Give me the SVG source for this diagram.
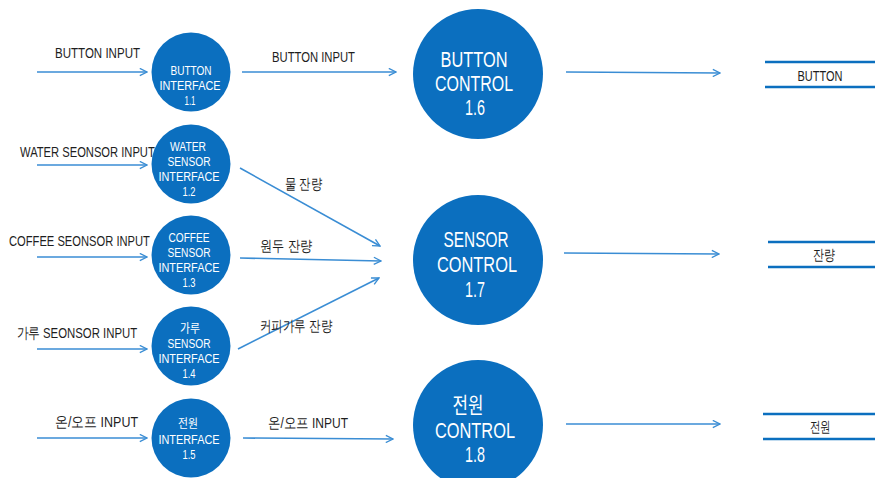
<svg xmlns="http://www.w3.org/2000/svg" width="875" height="478" viewBox="0 0 875 478">
<style>
.bg{fill:#ffffff}
.node{fill:#0b6fbf}
.wt{fill:#ffffff;font-family:"Liberation Sans",sans-serif;text-anchor:middle}
.k{font-family:"Liberation Sans","Noto Sans CJK KR",sans-serif}
.s{font-size:12px}
.b{font-size:22px}
.lbl{fill:#1e1e1e;font-family:"Liberation Sans",sans-serif;font-size:14.5px}
.ctr{text-anchor:middle}
.edge{fill:none;stroke:#3a8dd4;stroke-width:1.6;marker-end:url(#ah)}
.store{stroke:#0b6fbf;stroke-width:2.6}
</style>
<defs>
<marker id="ah" viewBox="0 0 10 10" refX="9" refY="5" markerWidth="9" markerHeight="9" orient="auto" markerUnits="userSpaceOnUse">
<path d="M1,1 L9,5 L1,9" fill="none" stroke="#3a8dd4" stroke-width="1.5"/>
</marker>
</defs>
<rect class="bg" x="0" y="0" width="875" height="478"/>

<g id="connectors">
<line class="edge" x1="37" y1="72" x2="147" y2="72"/>
<line class="edge" x1="37" y1="165" x2="147" y2="165"/>
<line class="edge" x1="37" y1="257" x2="147" y2="257"/>
<line class="edge" x1="37" y1="349" x2="147" y2="349"/>
<line class="edge" x1="37" y1="438" x2="147" y2="438"/>
<line class="edge" x1="242" y1="72" x2="396" y2="72"/>
<line class="edge" x1="240" y1="168" x2="380" y2="246"/>
<line class="edge" x1="240" y1="258" x2="381" y2="261"/>
<line class="edge" x1="238" y1="349" x2="379" y2="278"/>
<line class="edge" x1="243" y1="438" x2="393" y2="439"/>
<line class="edge" x1="566" y1="72" x2="720" y2="73"/>
<line class="edge" x1="564" y1="253" x2="719" y2="254"/>
<line class="edge" x1="566" y1="424" x2="720" y2="424"/>
<text class="lbl" x="55" y="58" textLength="85" lengthAdjust="spacingAndGlyphs">BUTTON INPUT</text>
<text class="lbl" transform="translate(20,157) scale(0.77,1)" x="0" y="0" textLength="175" lengthAdjust="spacingAndGlyphs">WATER SEONSOR INPUT</text>
<text class="lbl" transform="translate(9,246) scale(0.77,1)" x="0" y="0" textLength="183" lengthAdjust="spacingAndGlyphs">COFFEE SEONSOR INPUT</text>
<text class="lbl k" transform="translate(17,338) scale(0.77,1)" x="0" y="0" textLength="156" lengthAdjust="spacingAndGlyphs">가루 SEONSOR INPUT</text>
<text class="lbl k" x="55" y="427" textLength="83" lengthAdjust="spacingAndGlyphs">온/오프 INPUT</text>
<text class="lbl" x="272" y="62" textLength="83" lengthAdjust="spacingAndGlyphs">BUTTON INPUT</text>
<text class="lbl k" x="285" y="189" textLength="37" lengthAdjust="spacingAndGlyphs">물 잔량</text>
<text class="lbl k" x="260" y="251" textLength="52" lengthAdjust="spacingAndGlyphs">원두 잔량</text>
<text class="lbl k" x="260" y="331" textLength="72" lengthAdjust="spacingAndGlyphs">커피가루 잔량</text>
<text class="lbl k" x="268" y="428" textLength="80" lengthAdjust="spacingAndGlyphs">온/오프 INPUT</text>
</g>

<g id="n1-1">
<circle class="node" cx="191" cy="72" r="39.5"/>
<text class="wt s" x="191" y="75" textLength="41" lengthAdjust="spacingAndGlyphs">BUTTON</text>
<text class="wt s" x="190" y="90" textLength="61" lengthAdjust="spacingAndGlyphs">INTERFACE</text>
<text class="wt s" x="190" y="105" textLength="11" lengthAdjust="spacingAndGlyphs">1.1</text>
</g>
<g id="n1-2">
<circle class="node" cx="191" cy="164" r="39.5"/>
<text class="wt s" x="188" y="151" textLength="36" lengthAdjust="spacingAndGlyphs">WATER</text>
<text class="wt s" x="189" y="166" textLength="43" lengthAdjust="spacingAndGlyphs">SENSOR</text>
<text class="wt s" x="189" y="181" textLength="61" lengthAdjust="spacingAndGlyphs">INTERFACE</text>
<text class="wt s" x="189" y="196" textLength="13" lengthAdjust="spacingAndGlyphs">1.2</text>
</g>
<g id="n1-3">
<circle class="node" cx="191" cy="255" r="39.5"/>
<text class="wt s" x="189" y="242" textLength="41" lengthAdjust="spacingAndGlyphs">COFFEE</text>
<text class="wt s" x="189" y="257" textLength="43" lengthAdjust="spacingAndGlyphs">SENSOR</text>
<text class="wt s" x="189" y="272" textLength="61" lengthAdjust="spacingAndGlyphs">INTERFACE</text>
<text class="wt s" x="189" y="287" textLength="13" lengthAdjust="spacingAndGlyphs">1.3</text>
</g>
<g id="n1-4">
<circle class="node" cx="191" cy="346" r="39.5"/>
<text class="wt s k" x="190" y="333" textLength="20" lengthAdjust="spacingAndGlyphs">가루</text>
<text class="wt s" x="189" y="348" textLength="43" lengthAdjust="spacingAndGlyphs">SENSOR</text>
<text class="wt s" x="189" y="363" textLength="61" lengthAdjust="spacingAndGlyphs">INTERFACE</text>
<text class="wt s" x="189" y="378" textLength="13" lengthAdjust="spacingAndGlyphs">1.4</text>
</g>
<g id="n1-5">
<circle class="node" cx="191" cy="438" r="39.5"/>
<text class="wt s k" x="188" y="428" textLength="20" lengthAdjust="spacingAndGlyphs">전원</text>
<text class="wt s" x="189" y="444" textLength="61" lengthAdjust="spacingAndGlyphs">INTERFACE</text>
<text class="wt s" x="189" y="459" textLength="13" lengthAdjust="spacingAndGlyphs">1.5</text>
</g>

<g id="n1-6">
<circle class="node" cx="478" cy="74" r="65"/>
<text class="wt b" x="474" y="67" textLength="67" lengthAdjust="spacingAndGlyphs">BUTTON</text>
<text class="wt b" x="474" y="91" textLength="78" lengthAdjust="spacingAndGlyphs">CONTROL</text>
<text class="wt b" x="475" y="115" textLength="20" lengthAdjust="spacingAndGlyphs">1.6</text>
</g>
<g id="n1-7">
<circle class="node" cx="478" cy="260" r="65"/>
<text class="wt b" x="476" y="247" textLength="65" lengthAdjust="spacingAndGlyphs">SENSOR</text>
<text class="wt b" x="477" y="272" textLength="80" lengthAdjust="spacingAndGlyphs">CONTROL</text>
<text class="wt b" x="475" y="297" textLength="20" lengthAdjust="spacingAndGlyphs">1.7</text>
</g>
<g id="n1-8">
<circle class="node" cx="478" cy="425" r="65"/>
<text class="wt b k" x="468" y="413" textLength="31" lengthAdjust="spacingAndGlyphs">전원</text>
<text class="wt b" x="475" y="438" textLength="80" lengthAdjust="spacingAndGlyphs">CONTROL</text>
<text class="wt b" x="475" y="462" textLength="20" lengthAdjust="spacingAndGlyphs">1.8</text>
</g>

<g id="store-button">
<line class="store" x1="765" y1="62" x2="875" y2="62"/>
<line class="store" x1="765" y1="87" x2="875" y2="87"/>
<text class="lbl ctr" x="820" y="81" textLength="45" lengthAdjust="spacingAndGlyphs">BUTTON</text>
</g>
<g id="store-level">
<line class="store" x1="768" y1="242" x2="875" y2="242"/>
<line class="store" x1="768" y1="267" x2="875" y2="267"/>
<text class="lbl ctr k" x="824" y="260" textLength="22" lengthAdjust="spacingAndGlyphs">잔량</text>
</g>
<g id="store-power">
<line class="store" x1="763" y1="414" x2="875" y2="414"/>
<line class="store" x1="763" y1="439" x2="875" y2="439"/>
<text class="lbl ctr k" x="820" y="432" textLength="21" lengthAdjust="spacingAndGlyphs">전원</text>
</g>
</svg>
